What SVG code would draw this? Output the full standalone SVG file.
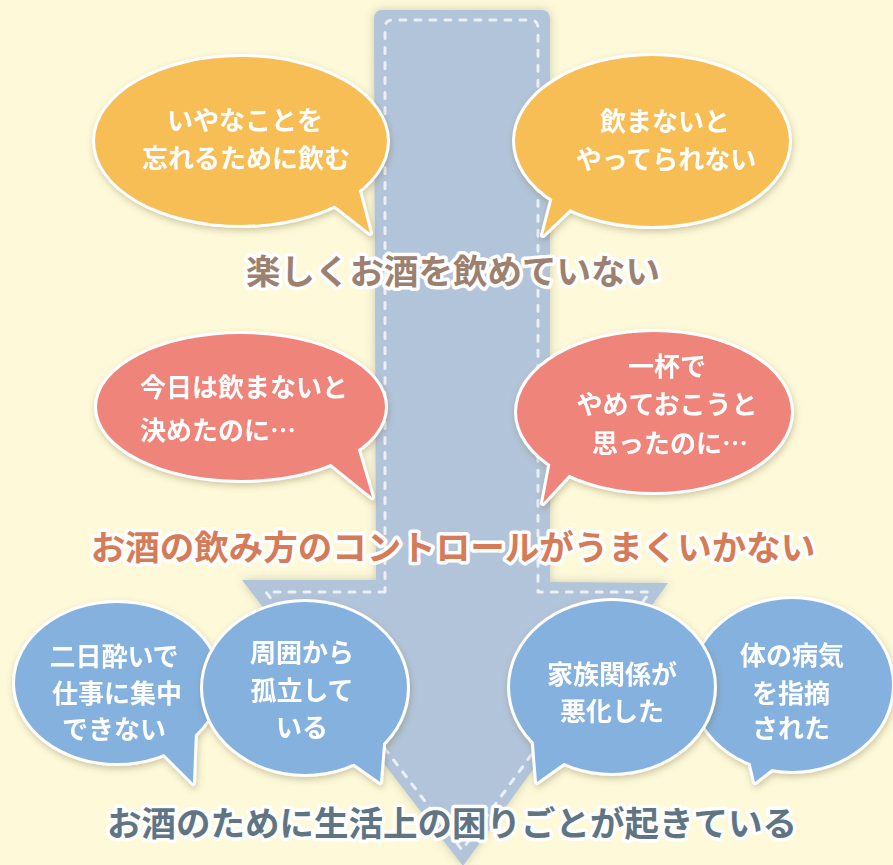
<svg xmlns="http://www.w3.org/2000/svg" width="893" height="865" viewBox="0 0 893 865">
<style>
.bt{font-family:"Noto Sans CJK JP","Noto Sans",sans-serif;font-size:26px;fill:#fff;text-anchor:middle;font-weight:700}
.h{font-family:"Noto Sans CJK JP","Noto Sans",sans-serif;font-size:34.5px;font-weight:700;text-anchor:middle;stroke:#fff;stroke-width:7;stroke-linejoin:round;paint-order:stroke fill}
.edge{stroke:#fff;stroke-width:6;stroke-linejoin:round}
.orange .edge,.orange .fill{fill:#f8be57}
.red .edge,.red .fill{fill:#ef847a}
.blue .edge,.blue .fill{fill:#85b1de}
.stitch{fill:none;stroke:#f4f7fb;stroke-width:3;stroke-dasharray:6 9;stroke-linecap:round;stroke-linejoin:round;opacity:0.85}
</style>
<defs>
<filter id="bshadow" x="-20%" y="-20%" width="140%" height="150%">
<feDropShadow dx="1" dy="3" stdDeviation="3" flood-color="#6b5a30" flood-opacity="0.3"/>
</filter>
<filter id="ashadow" x="-20%" y="-10%" width="140%" height="120%">
<feGaussianBlur in="SourceAlpha" stdDeviation="5" result="b"/>
<feFlood flood-color="#5a5a50" flood-opacity="0.3"/>
<feComposite in2="b" operator="in" result="s"/>
<feTurbulence type="fractalNoise" baseFrequency="0.9" numOctaves="2" seed="3" result="n"/>
<feColorMatrix in="n" type="matrix" values="0 0 0 0 0.3  0 0 0 0 0.35  0 0 0 0 0.45  0 0 0 0.08 0" result="n2"/>
<feComposite in="n2" in2="SourceAlpha" operator="in" result="tex"/>
<feMerge><feMergeNode in="s"/><feMergeNode in="SourceGraphic"/><feMergeNode in="tex"/></feMerge>
</filter>
</defs>
<rect width="893" height="865" fill="#fdf9d9"/>
<g id="arrow">
<path filter="url(#ashadow)" fill="#b4c6db" d="M383,10 L541,10 Q550,10 550,19 L550,582 L668,583 L463,866 L242,580 L376,580 L374,19 Q374,10 383,10 Z"/>
<path class="stitch" d="M385,592 L266,592 L462,850 L650,592 L538,592 L538,28 Q538,20 530,20 L393,20 Q385,20 385,28 Z"/>
</g>
<g id="bubble-o1" class="orange" filter="url(#bshadow)">
<ellipse class="edge" cx="241" cy="141" rx="146" ry="84"/>
<polygon class="edge" points="320,194 370,233 355,176"/>
<ellipse class="fill" cx="241" cy="141" rx="146" ry="84"/>
<polygon class="fill" points="320,194 370,233 355,176"/>
<text class="bt" x="245" y="130">いやなことを</text>
<text class="bt" x="246" y="168">忘れるために飲む</text>
</g>
<g id="bubble-o2" class="orange" filter="url(#bshadow)">
<ellipse class="edge" cx="652" cy="141" rx="137" ry="85"/>
<polygon class="edge" points="558,178 543,235 590,190"/>
<ellipse class="fill" cx="652" cy="141" rx="137" ry="85"/>
<polygon class="fill" points="558,178 543,235 590,190"/>
<text class="bt" x="665" y="131">飲まないと</text>
<text class="bt" x="666" y="169">やってられない</text>
</g>
<g id="heading-1">
<text class="h" x="453" y="284" fill="#9c8170">楽しくお酒を飲めていない</text>
</g>
<g id="bubble-r1" class="red" filter="url(#bshadow)">
<ellipse class="edge" cx="241" cy="407" rx="144" ry="73"/>
<polygon class="edge" points="320,455 372,497 355,440"/>
<ellipse class="fill" cx="241" cy="407" rx="144" ry="73"/>
<polygon class="fill" points="320,455 372,497 355,440"/>
<text class="bt" x="244" y="397">今日は飲まないと</text>
<text class="bt" x="218" y="440">決めたのに…</text>
</g>
<g id="bubble-r2" class="red" filter="url(#bshadow)">
<ellipse class="edge" cx="654" cy="412" rx="137" ry="80"/>
<polygon class="edge" points="555,440 543,503 590,452"/>
<ellipse class="fill" cx="654" cy="412" rx="137" ry="80"/>
<polygon class="fill" points="555,440 543,503 590,452"/>
<text class="bt" x="667" y="376">一杯で</text>
<text class="bt" x="667" y="414">やめておこうと</text>
<text class="bt" x="670" y="453">思ったのに…</text>
</g>
<g id="heading-2">
<text class="h" x="453" y="560" fill="#d57b58">お酒の飲み方のコントロールがうまくいかない</text>
</g>
<g id="bubble-b1" class="blue" filter="url(#bshadow)">
<ellipse class="edge" cx="117" cy="683" rx="102" ry="80"/>
<polygon class="edge" points="150,740 193,783 195,730"/>
<ellipse class="fill" cx="117" cy="683" rx="102" ry="80"/>
<polygon class="fill" points="150,740 193,783 195,730"/>
<text class="bt" x="114" y="666">二日酔いで</text>
<text class="bt" x="117" y="703">仕事に集中</text>
<text class="bt" x="114" y="739">できない</text>
</g>
<g id="bubble-b2" class="blue" filter="url(#bshadow)">
<ellipse class="edge" cx="305" cy="688" rx="102" ry="86"/>
<polygon class="edge" points="335,750 380,782 385,720"/>
<ellipse class="fill" cx="305" cy="688" rx="102" ry="86"/>
<polygon class="fill" points="335,750 380,782 385,720"/>
<text class="bt" x="302" y="662">周囲から</text>
<text class="bt" x="302" y="700">孤立して</text>
<text class="bt" x="302" y="737">いる</text>
</g>
<g id="bubble-b4" class="blue" filter="url(#bshadow)">
<ellipse class="edge" cx="792" cy="685" rx="100" ry="86"/>
<polygon class="edge" points="745,740 755,782 790,755"/>
<ellipse class="fill" cx="792" cy="685" rx="100" ry="86"/>
<polygon class="fill" points="745,740 755,782 790,755"/>
<text class="bt" x="792" y="665">体の病気</text>
<text class="bt" x="791" y="703">を指摘</text>
<text class="bt" x="791" y="738">された</text>
</g>
<g id="bubble-b3" class="blue" filter="url(#bshadow)">
<ellipse class="edge" cx="612" cy="687" rx="102" ry="86"/>
<polygon class="edge" points="582,750 537,782 532,720"/>
<ellipse class="fill" cx="612" cy="687" rx="102" ry="86"/>
<polygon class="fill" points="582,750 537,782 532,720"/>
<text class="bt" x="612" y="684">家族関係が</text>
<text class="bt" x="612" y="721">悪化した</text>
</g>
<g id="heading-3">
<text class="h" x="452" y="836" fill="#5f7583">お酒のために生活上の困りごとが起きている</text>
</g>
</svg>
